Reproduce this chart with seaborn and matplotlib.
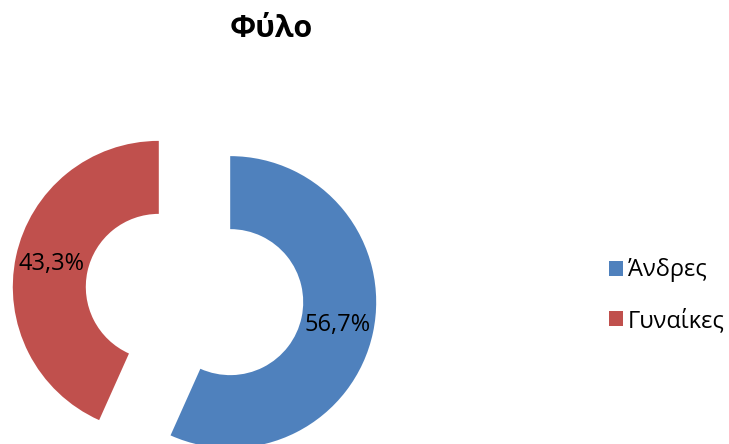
import matplotlib
matplotlib.use("Agg")
import matplotlib.pyplot as plt
import seaborn as sns

# data
categories = ["Άνδρες", "Γυναίκες"]
shares = [56.7, 43.3]
colors = ["#4F81BD", "#C0504D"]
title = "Φύλο"

sns.set_style("white")
plt.rcParams["font.family"] = ["Open Sans", "DejaVu Sans"]
plt.rcParams["text.color"] = "black"

fig = plt.figure(figsize=(7.29, 4.44), dpi=100)
ax = fig.add_axes([0, 0, 1, 1])

wedges, texts, autotexts = ax.pie(
    shares,
    colors=colors,
    startangle=90,
    counterclock=False,
    explode=[0.25, 0.25],
    radius=1,
    pctdistance=0.75,
    autopct=lambda p: f"{p:.1f}%".replace(".", ","),
    wedgeprops=dict(width=0.5, linewidth=0),
    textprops=dict(fontsize=17, color="black"),
)

# place the donut like the reference (146 px per unit)
scale = 146.0
cx, cy = 194.5, 149.5
ax.set_xlim(-cx / scale, (729 - cx) / scale)
ax.set_ylim(-cy / scale, (444 - cy) / scale)
ax.set_aspect("equal")
ax.axis("off")

fig.text(271 / 729, 1 - 29 / 444, title, ha="center", va="center",
         fontsize=22, fontweight="bold", color="black")

ax.legend(wedges, categories, loc="center left",
          bbox_to_anchor=(0.835, 0.334), bbox_transform=fig.transFigure,
          frameon=False, fontsize=17, handlelength=0.6, handleheight=0.6,
          handletextpad=0.2, labelspacing=1.1, borderpad=0,
          borderaxespad=0, labelcolor="black")

fig.savefig("out.png", dpi=100)
